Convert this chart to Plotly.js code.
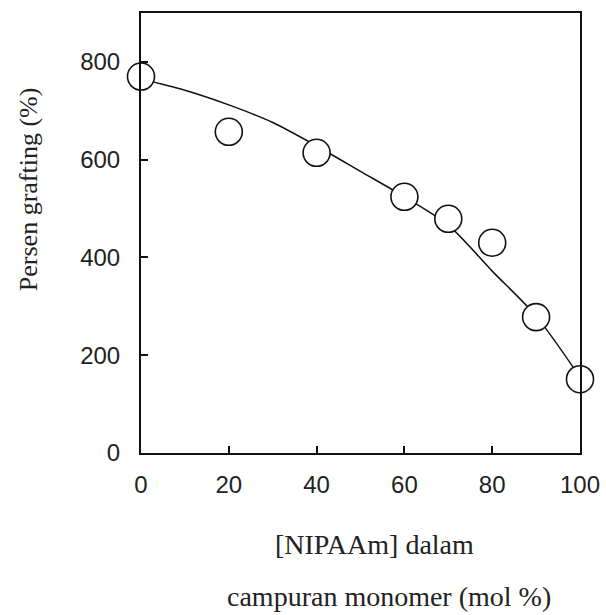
<!DOCTYPE html>
<html>
<head>
<meta charset="utf-8">
<script src="https://cdn.plot.ly/plotly-3.0.1.min.js"></script>
<style>html,body{margin:0;padding:0;background:#fff;}#chart{width:606px;height:615px;}</style>
</head>
<body>
<div id="chart"></div>
<script>
// Measured data points
var nipaam = [0, 20, 40, 60, 70, 80, 90, 100];
var grafting = [770, 657, 614, 524, 479, 430, 278, 151];
// Fitted trend curve
var curveX = [0, 10, 20, 30, 40, 50, 60, 70, 80, 90, 100];
var curveY = [765, 742, 712, 676, 628, 576, 524, 466, 372, 280, 155];
var xTicks = [0, 20, 40, 60, 80, 100];
var yTicks = [0, 200, 400, 600, 800];

var traces = [
  {x: curveX, y: curveY, mode: 'lines', line: {color: '#111', width: 1.5, shape: 'spline', smoothing: 0.8}, hoverinfo: 'skip', cliponaxis: false},
  {x: nipaam, y: grafting, mode: 'markers', marker: {symbol: 'circle', size: 27, color: '#fff', line: {color: '#111', width: 1.6}}, cliponaxis: false}
];

var serif = 'Liberation Serif, Times New Roman, serif';
var layout = {
  width: 606, height: 615,
  margin: {l: 141, r: 26, t: 13, b: 162},
  paper_bgcolor: '#fff', plot_bgcolor: '#fff',
  showlegend: false,
  xaxis: {
    range: [0, 100], tickvals: xTicks, ticktext: xTicks.map(String),
    showgrid: false, zeroline: false, showline: true, mirror: true, linecolor: '#111', linewidth: 2,
    ticks: 'inside', ticklen: 7, tickwidth: 2, tickcolor: '#111',
    tickfont: {family: 'Liberation Sans, Arial, sans-serif', size: 24, color: '#222'},
    ticklabelstandoff: 9
  },
  yaxis: {
    range: [0, 900], tickvals: yTicks, ticktext: yTicks.map(String),
    showgrid: false, zeroline: false, showline: true, mirror: true, linecolor: '#111', linewidth: 2,
    ticks: 'inside', ticklen: 7, tickwidth: 2, tickcolor: '#111',
    tickfont: {family: 'Liberation Sans, Arial, sans-serif', size: 24, color: '#222'},
    ticklabelstandoff: 14
  },
  annotations: [
    {text: 'Persen grafting (%)', xref: 'paper', yref: 'paper', x: -0.257, y: 0.60, textangle: -90, xanchor: 'center', yanchor: 'middle', showarrow: false,
     font: {family: serif, size: 26, color: '#222'}},
    {text: '[NIPAAm] dalam', xref: 'paper', yref: 'paper', x: 0.531, y: -0.209, xanchor: 'center', yanchor: 'middle', showarrow: false,
     font: {family: serif, size: 28, color: '#222'}},
    {text: 'campuran monomer (mol %)', xref: 'paper', yref: 'paper', x: 0.565, y: -0.325, xanchor: 'center', yanchor: 'middle', showarrow: false,
     font: {family: serif, size: 28, color: '#222'}}
  ]
};

Plotly.newPlot('chart', traces, layout, {displayModeBar: false, staticPlot: true});
</script>
</body>
</html>
